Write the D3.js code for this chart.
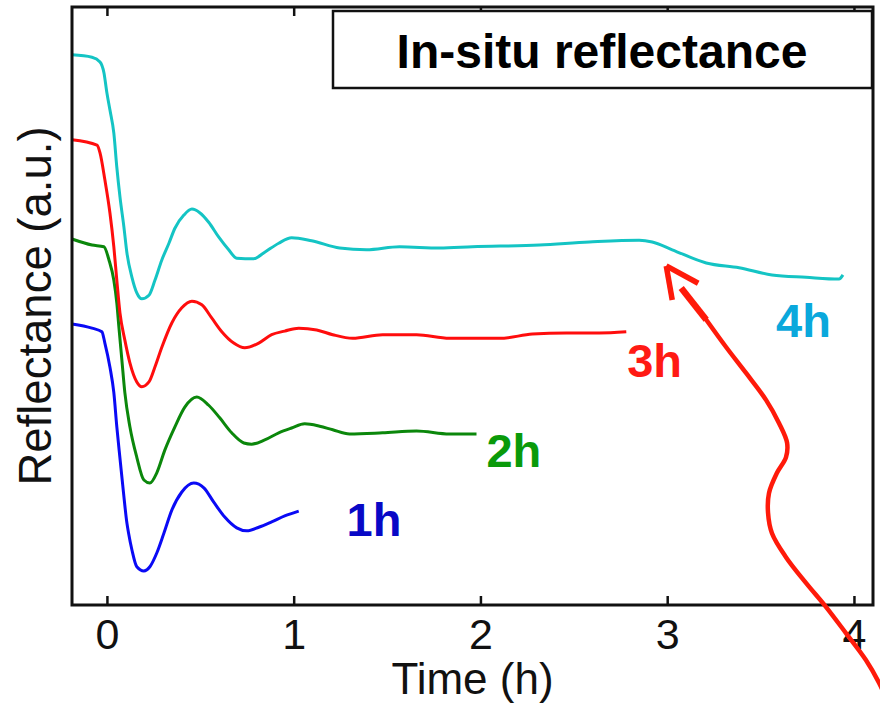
<!DOCTYPE html>
<html>
<head>
<meta charset="utf-8">
<script src="https://cdn.jsdelivr.net/npm/d3@7"></script>
<style>
  body { margin: 0; background: #fff; }
  svg { display: block; font-family: "Liberation Sans", Arial, Helvetica, sans-serif; }
</style>
</head>
<body>
<svg id="chart" width="880" height="704"></svg>
<script>
// In-situ reflectance traces for growth runs of 1 h, 2 h, 3 h and 4 h (arbitrary units)
const timeTicks = [0, 1, 2, 3, 4];
const timeDomain = [-0.187, 4.102];
const reflDomain = [0, 1];

const t1h = [-0.187, -0.080, -0.027, -0.011, 0.016, 0.037, 0.053, 0.071, 0.089, 0.107, 0.116, 0.134, 0.160, 0.198, 0.230, 0.267, 0.305, 0.348, 0.401, 0.465, 0.519, 0.572, 0.631, 0.695, 0.749, 0.813, 0.882, 0.952, 1.027];
const r1h = [0.470, 0.463, 0.457, 0.438, 0.398, 0.355, 0.298, 0.242, 0.187, 0.137, 0.120, 0.092, 0.064, 0.057, 0.064, 0.087, 0.120, 0.159, 0.189, 0.204, 0.196, 0.172, 0.147, 0.129, 0.124, 0.130, 0.139, 0.149, 0.157];

const t2h = [-0.187, -0.080, -0.016, 0.011, 0.037, 0.053, 0.064, 0.080, 0.096, 0.123, 0.160, 0.198, 0.230, 0.267, 0.310, 0.364, 0.417, 0.481, 0.545, 0.604, 0.668, 0.733, 0.775, 0.845, 0.920, 0.989, 1.059, 1.139, 1.209, 1.299, 1.476, 1.658, 1.834, 1.979];
const r2h = [0.612, 0.602, 0.599, 0.577, 0.543, 0.505, 0.465, 0.410, 0.355, 0.298, 0.247, 0.209, 0.204, 0.221, 0.259, 0.298, 0.331, 0.348, 0.334, 0.313, 0.288, 0.271, 0.269, 0.276, 0.288, 0.296, 0.303, 0.299, 0.293, 0.286, 0.288, 0.291, 0.286, 0.286];

const t3h = [-0.187, -0.053, -0.037, -0.011, 0.016, 0.037, 0.053, 0.070, 0.096, 0.123, 0.160, 0.187, 0.225, 0.257, 0.294, 0.348, 0.401, 0.455, 0.508, 0.561, 0.615, 0.679, 0.738, 0.813, 0.882, 0.952, 1.027, 1.123, 1.209, 1.316, 1.476, 1.658, 1.834, 2.102, 2.278, 2.460, 2.636, 2.781];
const r3h = [0.778, 0.769, 0.756, 0.711, 0.656, 0.599, 0.543, 0.488, 0.443, 0.405, 0.373, 0.365, 0.373, 0.398, 0.431, 0.472, 0.497, 0.508, 0.502, 0.480, 0.457, 0.438, 0.430, 0.438, 0.452, 0.458, 0.463, 0.460, 0.452, 0.446, 0.452, 0.452, 0.446, 0.446, 0.453, 0.455, 0.455, 0.457];

const t4h = [-0.187, -0.080, -0.037, -0.016, 0.000, 0.016, 0.037, 0.053, 0.070, 0.091, 0.107, 0.134, 0.160, 0.187, 0.225, 0.257, 0.294, 0.332, 0.364, 0.412, 0.455, 0.497, 0.545, 0.599, 0.652, 0.695, 0.786, 0.845, 0.920, 0.989, 1.096, 1.246, 1.390, 1.567, 1.781, 1.957, 2.316, 2.583, 2.850, 2.920, 3.027, 3.209, 3.385, 3.561, 3.743, 3.920, 3.941];
const r4h = [0.920, 0.916, 0.908, 0.890, 0.856, 0.828, 0.789, 0.732, 0.682, 0.632, 0.589, 0.548, 0.522, 0.512, 0.518, 0.543, 0.577, 0.605, 0.630, 0.652, 0.662, 0.656, 0.640, 0.615, 0.594, 0.580, 0.579, 0.590, 0.605, 0.614, 0.609, 0.597, 0.594, 0.599, 0.597, 0.599, 0.602, 0.607, 0.610, 0.607, 0.594, 0.572, 0.564, 0.552, 0.548, 0.545, 0.552];

const seriesNames = ["1h", "2h", "3h", "4h"];
const lineColors = ["#0a0af5", "#0b870b", "#ff0d0d", "#14c4c4"];
const labelColors = ["#0808c6", "#0a9a0a", "#ff1a14", "#0aa8dc"];
// label anchors (time, reflectance)
const labelTimes = [1.283, 2.032, 2.786, 3.583];
const labelRefl = [0.115, 0.231, 0.381, 0.448];

// annotation arrow pointing at the 4h slope change (time, reflectance)
const arrowTipT = [2.995], arrowTipR = [0.567];
const arrowArmT = [3.027, 3.166], arrowArmR = [0.510, 0.538];
const arrowWedgeT = [3.075, 3.209], arrowWedgeR = [0.530, 0.477];
const arrowShaftT = [3.209, 3.316, 3.422, 3.529, 3.599, 3.642, 3.636, 3.588, 3.545, 3.540, 3.561, 3.636, 3.743, 3.850, 3.957, 4.064, 4.134, 4.187];
const arrowShaftR = [0.477, 0.431, 0.388, 0.343, 0.304, 0.271, 0.247, 0.221, 0.187, 0.154, 0.120, 0.080, 0.037, -0.003, -0.047, -0.092, -0.130, -0.167];

const series = [
  { name: seriesNames[0], t: t1h, r: r1h },
  { name: seriesNames[1], t: t2h, r: r2h },
  { name: seriesNames[2], t: t3h, r: r3h },
  { name: seriesNames[3], t: t4h, r: r4h }
];

const svg = d3.select("#chart");
const plot = { left: 72, right: 873, top: 7, bottom: 605 };

const x = d3.scaleLinear().domain(timeDomain).range([plot.left, plot.right]);
const y = d3.scaleLinear().domain(reflDomain).range([plot.bottom, plot.top]);

// traces
const traceLine = d3.line()
  .x(d => x(d[0]))
  .y(d => y(d[1]))
  .curve(d3.curveMonotoneX);

series.forEach((s, i) => {
  svg.append("path")
    .datum(s.t.map((tv, k) => [tv, s.r[k]]))
    .attr("fill", "none")
    .attr("stroke", lineColors[i])
    .attr("stroke-width", 3)
    .attr("stroke-linejoin", "round")
    .attr("d", traceLine);
});

// frame
svg.append("rect")
  .attr("x", plot.left).attr("y", plot.top)
  .attr("width", plot.right - plot.left).attr("height", plot.bottom - plot.top)
  .attr("fill", "none").attr("stroke", "#111").attr("stroke-width", 3);

// bottom axis with inward ticks
const xAxis = d3.axisBottom(x).tickValues(timeTicks).tickFormat(d3.format("d"))
  .tickSizeInner(-9).tickSizeOuter(0).tickPadding(13);
const gx = svg.append("g").attr("transform", `translate(0,${plot.bottom})`).call(xAxis);
gx.select(".domain").remove();
gx.selectAll(".tick line").attr("stroke", "#111").attr("stroke-width", 2.5);
gx.selectAll(".tick text").attr("font-size", 43).attr("fill", "#111")
  .attr("font-family", "'Liberation Sans', Arial, sans-serif");

// top axis ticks (no labels)
const xTop = d3.axisTop(x).tickValues(timeTicks).tickFormat("")
  .tickSizeInner(-9).tickSizeOuter(0);
const gt = svg.append("g").attr("transform", `translate(0,${plot.top})`).call(xTop);
gt.select(".domain").remove();
gt.selectAll(".tick line").attr("stroke", "#111").attr("stroke-width", 2.5);

// axis titles
svg.append("text")
  .attr("x", (plot.left + plot.right) / 2).attr("y", 694)
  .attr("text-anchor", "middle").attr("font-size", 44).attr("fill", "#111")
  .text("Time (h)");

svg.append("text")
  .attr("transform", `translate(51,${(plot.top + plot.bottom) / 2}) rotate(-90)`)
  .attr("text-anchor", "middle").attr("font-size", 45.5).attr("fill", "#111")
  .text("Reflectance (a.u.)");

// title box
svg.append("rect")
  .attr("x", 333).attr("y", 11).attr("width", 539).attr("height", 77)
  .attr("fill", "#fff").attr("stroke", "#111").attr("stroke-width", 2.5);
svg.append("text")
  .attr("x", 602).attr("y", 68)
  .attr("text-anchor", "middle").attr("font-size", 48).attr("font-weight", "bold").attr("fill", "#000")
  .text("In-situ reflectance");

// run labels
seriesNames.forEach((n, i) => {
  svg.append("text")
    .attr("x", x(labelTimes[i])).attr("y", y(labelRefl[i]))
    .attr("font-size", 47).attr("font-weight", "bold").attr("fill", labelColors[i])
    .text(n);
});

// annotation arrow
const arrowColor = "#ff1a0a";
const pts = (ts, rs) => ts.map((tv, k) => [tv, rs[k]]);
svg.append("path")
  .datum(pts(arrowShaftT, arrowShaftR))
  .attr("fill", "none").attr("stroke", arrowColor).attr("stroke-width", 4.5)
  .attr("stroke-linecap", "round")
  .attr("d", d3.line().x(d => x(d[0])).y(d => y(d[1])).curve(d3.curveCatmullRom.alpha(0.5)));
svg.append("path")
  .datum(pts(arrowWedgeT, arrowWedgeR))
  .attr("fill", "none").attr("stroke", arrowColor).attr("stroke-width", 6.5)
  .attr("d", d3.line().x(d => x(d[0])).y(d => y(d[1])));
arrowArmT.forEach((tv, k) => {
  svg.append("line")
    .attr("x1", x(arrowTipT[0])).attr("y1", y(arrowTipR[0]))
    .attr("x2", x(tv)).attr("y2", y(arrowArmR[k]))
    .attr("stroke", arrowColor).attr("stroke-width", 5.5).attr("stroke-linecap", "butt");
});
</script>
</body>
</html>
